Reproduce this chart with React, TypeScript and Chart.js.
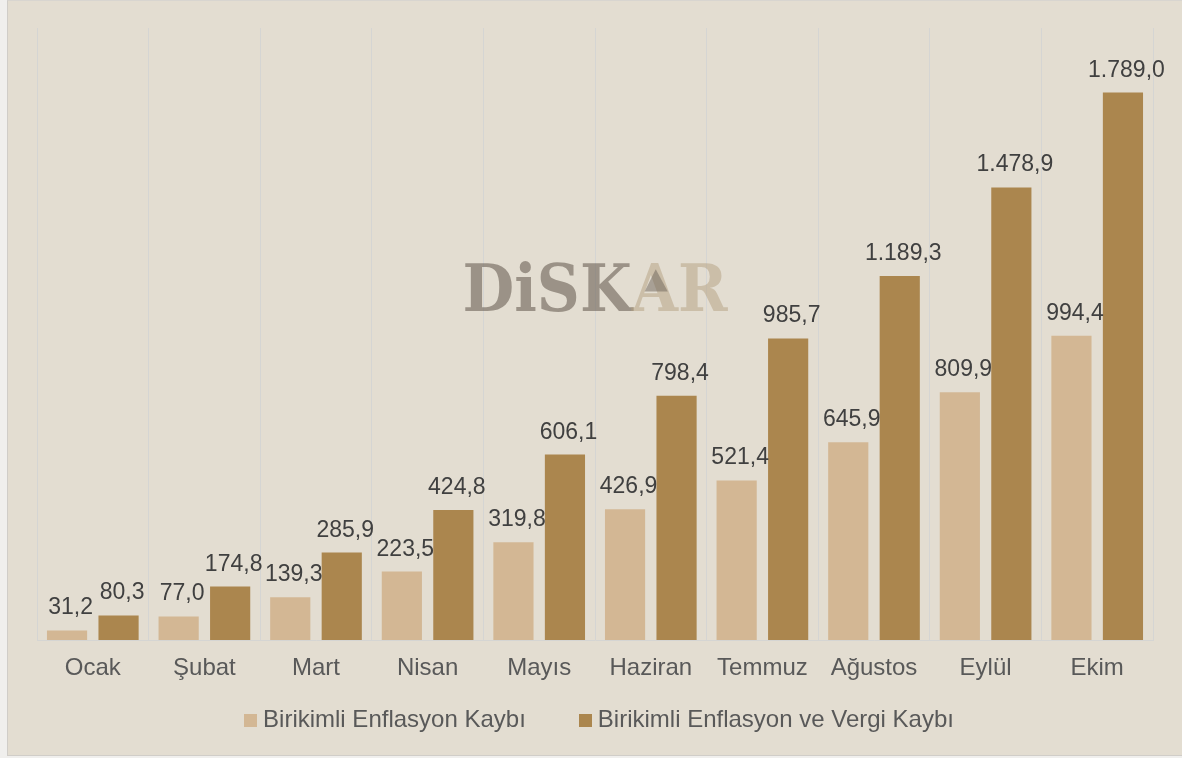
import React, { useEffect, useRef } from "react";
import { Chart, registerables } from "chart.js";

Chart.register(...registerables);

const categories = ["Ocak", "Şubat", "Mart", "Nisan", "Mayıs", "Haziran", "Temmuz", "Ağustos", "Eylül", "Ekim"];
const inflationLoss = [31.2, 77.0, 139.3, 223.5, 319.8, 426.9, 521.4, 645.9, 809.9, 994.4];
const inflationTaxLoss = [80.3, 174.8, 285.9, 424.8, 606.1, 798.4, 985.7, 1189.3, 1478.9, 1789.0];
const seriesNames = ["Birikimli Enflasyon Kaybı", "Birikimli Enflasyon ve Vergi Kaybı"];
const seriesColors = ["#d3b794", "#ab864e"];
const yMax = 2000;
const watermarkParts = ["DiSK", "AR"];

const FONT = "'Liberation Sans', Arial, sans-serif";

function fmt(v: number): string {
  const [i, d] = v.toFixed(1).split(".");
  const withDots = i.replace(/\B(?=(\d{3})+(?!\d))/g, ".");
  return withDots + "," + d;
}

const dataLabelPlugin = {
  id: "dataLabels",
  afterDatasetsDraw(chart: any) {
    const ctx = chart.ctx;
    ctx.save();
    ctx.font = `23px ${FONT}`;
    ctx.fillStyle = "#404040";
    ctx.textAlign = "center";
    ctx.textBaseline = "alphabetic";
    chart.data.datasets.forEach((ds: any, di: number) => {
      const meta = chart.getDatasetMeta(di);
      meta.data.forEach((el: any, i: number) => {
        ctx.fillText(fmt(ds.data[i]), el.x + 3.5, el.y - 16);
      });
    });
    ctx.restore();
  },
};

// Legend drawn beneath the axis, items taken from the chart's datasets
const legendPlugin = {
  id: "bottomLegend",
  afterDraw(chart: any) {
    const ctx = chart.ctx;
    const { left, right, bottom } = chart.chartArea;
    const box = 13;
    const gapBoxText = 6;
    const gapItems = 53;
    ctx.save();
    ctx.font = `24px ${FONT}`;
    ctx.textAlign = "left";
    ctx.textBaseline = "alphabetic";
    const items = chart.data.datasets.map((ds: any) => ({
      text: ds.label as string,
      color: ds.backgroundColor as string,
      w: ctx.measureText(ds.label).width,
    }));
    const total = items.reduce((s: number, it: any) => s + box + gapBoxText + it.w, 0) + gapItems * (items.length - 1);
    let x = (left + right) / 2 + 4 - total / 2;
    const baseline = bottom + 87;
    items.forEach((it: any) => {
      ctx.fillStyle = it.color;
      ctx.fillRect(Math.round(x), baseline - 13, box, box);
      ctx.fillStyle = "#595959";
      ctx.fillText(it.text, x + box + gapBoxText, baseline);
      x += box + gapBoxText + it.w + gapItems;
    });
    ctx.restore();
  },
};

const watermarkPlugin = {
  id: "watermark",
  beforeDatasetsDraw(chart: any) {
    const ctx = chart.ctx;
    const { left, right, top, bottom } = chart.chartArea;
    const cx = (left + right) / 2;
    const baseY = top + (bottom - top) * 0.462;
    const fontSize = 66;
    const targetW = 265;
    ctx.save();
    ctx.font = `bold ${fontSize}px 'DejaVu Serif', serif`;
    ctx.textBaseline = "alphabetic";
    ctx.textAlign = "left";
    const w1 = ctx.measureText(watermarkParts[0]).width;
    const w2 = ctx.measureText(watermarkParts[1]).width;
    const wA = ctx.measureText(watermarkParts[1][0]).width;
    const sx = targetW / (w1 + w2);
    ctx.translate(cx - targetW / 2, baseY);
    ctx.scale(sx, 1);
    ctx.fillStyle = "rgba(100,90,80,0.57)";
    ctx.fillText(watermarkParts[0], 0, 0);
    ctx.fillStyle = "rgba(180,160,128,0.5)";
    ctx.fillText(watermarkParts[1], w1, 0);
    const capH = fontSize * 0.73;
    const ax = w1 + wA / 2;
    ctx.fillStyle = "rgba(110,100,90,0.5)";
    ctx.beginPath();
    ctx.moveTo(ax + wA * 0.02, -capH * 0.86);
    ctx.lineTo(ax + wA * 0.28, -capH * 0.4);
    ctx.lineTo(ax - wA * 0.22, -capH * 0.4);
    ctx.closePath();
    ctx.fill();
    ctx.restore();
  },
};

export default function App() {
  const canvasRef = useRef<HTMLCanvasElement | null>(null);

  useEffect(() => {
    if (!canvasRef.current) return;
    const chart = new Chart(canvasRef.current, {
      type: "bar",
      data: {
        labels: categories,
        datasets: [
          {
            label: seriesNames[0],
            data: inflationLoss,
            backgroundColor: seriesColors[0],
            borderWidth: 0,
            categoryPercentage: 0.923,
            barPercentage: 0.78,
          },
          {
            label: seriesNames[1],
            data: inflationTaxLoss,
            backgroundColor: seriesColors[1],
            borderWidth: 0,
            categoryPercentage: 0.923,
            barPercentage: 0.78,
          },
        ],
      },
      options: {
        animation: false,
        responsive: false,
        maintainAspectRatio: false,
        layout: { padding: { left: 37, right: 29, top: 28, bottom: 70 } },
        plugins: {
          legend: { display: false },
          tooltip: { enabled: false },
        },
        scales: {
          x: {
            grid: { color: "#d5d5d3", drawTicks: false, offset: true, lineWidth: 1 },
            border: { display: true, color: "#d5d5d3" },
            ticks: { color: "#595959", padding: 14, font: { family: FONT, size: 24 } },
            afterFit: (scale: any) => {
              scale.height = 48;
            },
          },
          y: {
            display: false,
            min: 0,
            max: yMax,
          },
        },
      },
      plugins: [watermarkPlugin, dataLabelPlugin, legendPlugin],
    });
    return () => chart.destroy();
  }, []);

  return (
    <div style={{ position: "fixed", left: 0, top: 0, width: 1182, height: 758, background: "#f0efed", overflow: "hidden" }}>
      <div
        style={{
          position: "absolute",
          left: 7,
          top: 0,
          width: 1180,
          height: 756,
          background: "#e3ddd1",
          borderLeft: "1px solid #d0cdc8",
          borderTop: "1px solid #d8d5d0",
          borderBottom: "1px solid #d0cdc8",
          boxSizing: "border-box",
        }}
      />
      <canvas ref={canvasRef} width={1182} height={758} style={{ position: "absolute", left: 0, top: 0, width: 1182, height: 758 }} />
    </div>
  );
}
